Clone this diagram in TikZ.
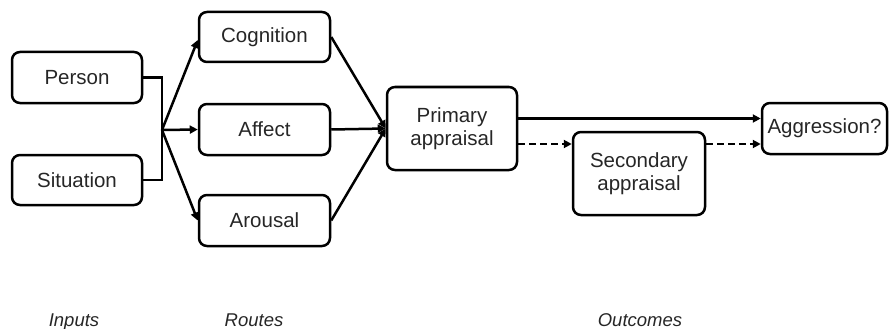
\documentclass[tikz,border=0pt]{standalone}
\usepackage{fontspec}
\setmainfont{Liberation Sans}
\usetikzlibrary{arrows.meta,positioning}
\begin{document}
\begin{tikzpicture}[x=1pt,y=-1pt,
  box/.style={draw, line width=2.5pt, rounded corners=8pt, align=center,
    font=\fontsize{20.5}{23.5}\selectfont, text=black!85, inner sep=2pt},
  link/.style={line width=2.5pt, -{Triangle[length=8pt,width=8pt]}},
  plain/.style={line width=2.5pt},
  dashlink/.style={link, dash pattern=on 7pt off 4pt},
  stage/.style={font=\fontsize{18.5}{21}\selectfont\itshape, text=black!85, inner sep=0pt}]
\useasboundingbox (0,0) rectangle (889,329);

% inputs
\node[box, minimum width=130pt, minimum height=51pt] (person) at (77,77.5) {Person};
\node[box, minimum width=130pt, minimum height=50pt] (situation) at (77,180) {Situation};

% routes
\node[box, minimum width=131pt, minimum height=50pt] (cog) at (264.5,37) {Cognition};
\node[box, minimum width=131pt, minimum height=51pt] (aff) at (264.5,129.5) {Affect};
\node[box, minimum width=131pt, minimum height=51pt] (aro) at (264.5,220.5) {Arousal};

% appraisals and outcome
\node[box, minimum width=130pt, minimum height=83pt] (prim) at (452,128.5) {Primary\\appraisal};
\node[box, minimum width=132pt, minimum height=83pt] (sec) at (639,173.5) {Secondary\\appraisal};
\node[box, minimum width=125pt, minimum height=51pt] (agg) at (824.5,128.5) {Aggression?};

% joining the inputs
\coordinate (j) at (162,130);
\draw[plain] (person.east) -| (j);
\draw[plain] (situation.east) -| (j);

% fan out to the routes
\draw[link] (j) -- ([yshift=-3pt]cog.west);
\draw[link] (j) -- (aff.west);
\draw[link] (j) -- (aro.west);

% routes into primary appraisal
\draw[link] (cog.east) -- (prim.west);
\draw[link] (aff.east) -- (prim.west);
\draw[link] (aro.east) -- (prim.west);

% outcomes
\draw[link] ([yshift=10pt]prim.east) -- ([yshift=10pt]prim.east -| agg.west);
\coordinate (d) at ([yshift=-15.5pt]prim.east);
\draw[dashlink] (d) -- (d -| sec.west);
\draw[dashlink] (d -| sec.east) -- (d -| agg.west);

% stage labels
\node[stage, anchor=base] (lin) at (74,326) {Inputs};
\node[stage, anchor=base] (lro) at (254,326) {Routes};
\node[stage, anchor=base] (lout) at (640,326) {Outcomes};
\end{tikzpicture}
\end{document}
